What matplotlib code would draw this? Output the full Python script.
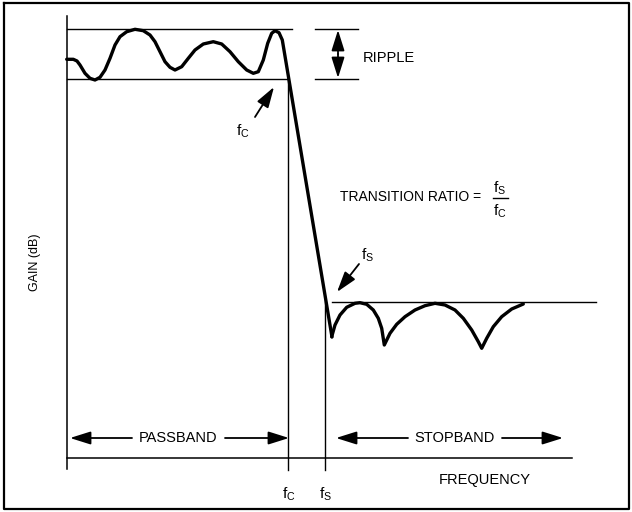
import numpy as np
import matplotlib.pyplot as plt

plt.rcParams['font.family'] = ['Liberation Sans', 'DejaVu Sans']

# diagram coordinates (x = frequency position, y = gain position, downward)
pass_freq = [66.7, 73.3, 77, 80, 85, 90, 95, 100, 105, 110, 115, 120, 126.7,
             135, 143.3, 150, 155, 160, 165, 170, 175, 181.7, 188.3, 195,
             203.3, 213.3, 221.7, 230, 238.3, 246.7, 253.3, 258.3, 263.3,
             267.7, 271.7, 275, 279, 282.3, 332]
pass_gain = [59.3, 59.3, 61, 65, 73.3, 78.3, 80, 77.3, 70, 58.3, 45, 36.7, 31.7,
             29.3, 30.7, 35, 41.7, 51.7, 61.7, 67.3, 70, 66.7, 58.3, 50,
             44, 41.7, 44, 51.7, 61.7, 70, 73.3, 71.7, 60,
             43.3, 33.3, 30.7, 32.7, 40, 337]

stop_freq = [331.7, 335, 340, 346.7, 355, 360, 366.7, 373.3, 378.3, 381.7, 384.3,
             390, 396.7, 405, 415, 425, 435, 445, 455, 463.3, 471.7, 478.3,
             481.7, 486.7, 493.3, 501.7, 511.7, 523.3]
stop_gain = [336.7, 325, 315, 307.3, 303.3, 302.7, 304.3, 310, 318.3, 328.3, 345,
             333.3, 324.3, 316.7, 310, 305.7, 303.3, 305, 310, 318.3, 330, 341.7,
             348.3, 338.3, 326.7, 316.7, 309, 304]

origin = (67, 458)
f_c = 288
f_s = 325
ripple_top = 29
ripple_bot = 79
stop_level = 302

fig = plt.figure(figsize=(6.32, 5.12), dpi=100)
ax = fig.add_axes([0, 0, 1, 1])
ax.set_xlim(0, 632)
ax.set_ylim(512, 0)
ax.axis('off')

k = 'black'
thin = 1.0
fs = 10.5

# outer frame
ax.plot([4, 629, 629, 4, 4], [3, 3, 509, 509, 3], color=k, lw=1.6)

# axes
ax.plot([origin[0], origin[0]], [16, 469], color=k, lw=1.1)
ax.plot([origin[0], 572], [origin[1], origin[1]], color=k, lw=1.1)

head = '-|>,head_length=0.7,head_width=0.22'

# ripple limits
ax.plot([origin[0], 292], [ripple_top, ripple_top], color=k, lw=thin)
ax.plot([origin[0], f_c], [ripple_bot, ripple_bot], color=k, lw=thin)
ax.plot([315, 358], [ripple_top, ripple_top], color=k, lw=thin)
ax.plot([315, 358], [ripple_bot, ripple_bot], color=k, lw=thin)
ax.annotate('', xy=(338, ripple_top + 1), xytext=(338, 54),
            arrowprops=dict(arrowstyle=head, color=k, lw=1.3, mutation_scale=18,
                            shrinkA=0, shrinkB=0))
ax.annotate('', xy=(338, ripple_bot - 1), xytext=(338, 54),
            arrowprops=dict(arrowstyle=head, color=k, lw=1.3, mutation_scale=18,
                            shrinkA=0, shrinkB=0))
ax.text(363, 58, 'RIPPLE', fontsize=fs, va='center', ha='left')

# fc and fs verticals
ax.plot([f_c, f_c], [ripple_bot, 470], color=k, lw=thin)
ax.plot([f_s, f_s], [297, 470], color=k, lw=thin)
ax.plot([332, 596], [stop_level, stop_level], color=k, lw=thin)

# response curve
ax.plot(pass_freq, pass_gain, color=k, lw=2.4, solid_joinstyle='round', solid_capstyle='round')
ax.plot(stop_freq, stop_gain, color=k, lw=2.4, solid_joinstyle='round', solid_capstyle='round')

# fc / fs callouts
ax.annotate('', xy=(274, 87), xytext=(255, 117),
            arrowprops=dict(arrowstyle=head, color=k, lw=1.3, mutation_scale=18,
                            shrinkA=0, shrinkB=0))
ax.text(243, 131, r'f$_\mathregular{C}$', fontsize=11, ha='center', va='center')
ax.annotate('', xy=(337, 292), xytext=(359, 264),
            arrowprops=dict(arrowstyle=head, color=k, lw=1.3, mutation_scale=18,
                            shrinkA=0, shrinkB=0))
ax.text(368, 255, r'f$_\mathregular{S}$', fontsize=11, ha='center', va='center')

# transition ratio
ax.text(340, 197, 'TRANSITION RATIO =', fontsize=10, ha='left', va='center')
ax.text(500, 188, r'f$_\mathregular{S}$', fontsize=11, ha='center', va='center')
ax.text(500, 211, r'f$_\mathregular{C}$', fontsize=11, ha='center', va='center')
ax.plot([493, 508], [198, 198], color=k, lw=thin)

# band arrows
band_y = 438
arrow_kw = dict(arrowstyle=head, color=k, lw=1.3, mutation_scale=18, shrinkA=0, shrinkB=0)
ax.annotate('', xy=(70, band_y), xytext=(132, band_y), arrowprops=arrow_kw)
ax.annotate('', xy=(289, band_y), xytext=(225, band_y), arrowprops=arrow_kw)
ax.text(178, band_y, 'PASSBAND', fontsize=fs, ha='center', va='center')
ax.annotate('', xy=(336, band_y), xytext=(408, band_y), arrowprops=arrow_kw)
ax.annotate('', xy=(563, band_y), xytext=(502, band_y), arrowprops=arrow_kw)
ax.text(455, band_y, 'STOPBAND', fontsize=fs, ha='center', va='center')

# axis labels
ax.text(485, 480, 'FREQUENCY', fontsize=fs, ha='center', va='center')
ax.text(f_c + 1, 494, r'f$_\mathregular{C}$', fontsize=11, ha='center', va='center')
ax.text(f_s + 1, 494, r'f$_\mathregular{S}$', fontsize=11, ha='center', va='center')
ax.text(35, 262, 'GAIN (dB)', fontsize=9, ha='center', va='center', rotation=90)

fig.savefig('out.png', dpi=100, facecolor='white')
